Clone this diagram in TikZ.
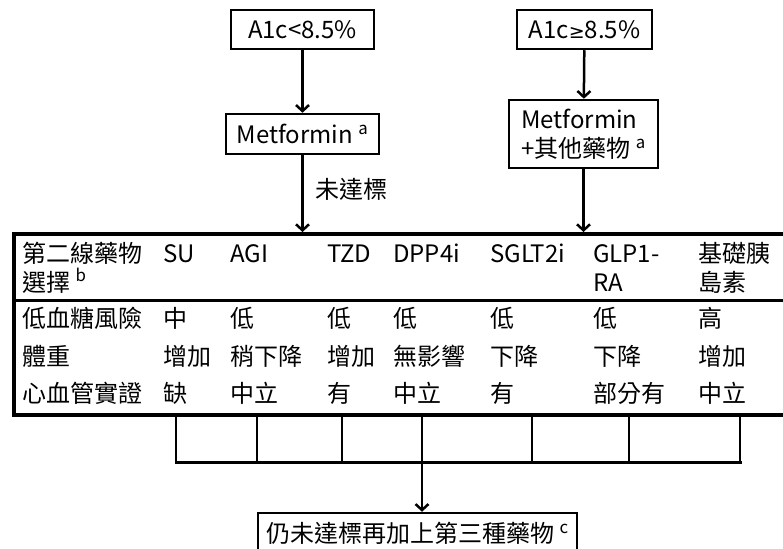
\documentclass[tikz,border=0pt]{standalone}
\usepackage{fontspec}
\setmainfont{Noto Sans CJK TC}
\newfontfamily\symfont{DejaVu Sans}
\usetikzlibrary{arrows.meta}
\tikzstyle{box} = [rectangle, draw=black, line width=2.5pt, inner sep=0pt, align=center]
\tikzstyle{arrow} = [line width=2.5pt, -{Straight Barb[length=6pt,width=13pt]}]
\tikzstyle{cell} = [anchor=base west, inner sep=0pt, align=left]
\tikzstyle{stub} = [line width=2.5pt]

\begin{document}
\begin{tikzpicture}[x=1pt, y=-1pt, font=\fontsize{24}{29}\selectfont]
    \clip (0,0) rectangle (783,548);
    % first line
    \node (low) [box, minimum width=143pt, minimum height=39pt] at (302.5,29.5) {A1c<8.5\%};
    \node (metf) [box, minimum width=153pt, minimum height=40pt] at (302.5,134) {Metformin \textsuperscript{a}};
    \node (high) [box, minimum width=135pt, minimum height=39pt] at (584.5,29.5) {A1c{\symfont\fontsize{19}{24}\selectfont ≥}8.5\%};
    \node (metfplus) [box, align=left, minimum width=149pt, minimum height=68pt] at (583.5,134) {Metformin\\+其他藥物 \textsuperscript{a}};
    % second line table
    \node (tab) [rectangle, draw, line width=3.5pt, minimum width=800pt, minimum height=181pt, anchor=north west, inner sep=0pt] at (12,232) {};
    \coordinate (div) at (0,300);
    \draw [line width=3pt] (tab.west |- div) -- (tab.east |- div);
    \draw [arrow] (low) -- (metf);
    \draw [arrow] (metf) -- node[pos=0.44, right, xshift=8pt] {未達標} (metf |- tab.north);
    \draw [arrow] (high) -- (metfplus);
    \draw [arrow] (metfplus) -- (metfplus |- tab.north);
    \foreach \x/\hy/\head/\hypo/\wt/\cv [count=\c] in {22/291/第二線藥物\\選擇 \textsuperscript{b}/低血糖風險/體重/心血管實證,
        163/262/SU/中/增加/缺, 230/262/AGI/低/稍下降/中立, 327/262/TZD/低/增加/有, 393/262/DPP4i/低/無影響/中立,
        490/262/SGLT2i/低/下降/有, 593/291/GLP1-\\RA/低/下降/部分有, 698/291/基礎胰\\島素/高/增加/中立} {
        \node (head\c) [cell] at (\x,\hy) {\head};
        \node (hypo\c) [cell] at (\x,327.5) {\hypo};
        \node (wt\c) [cell] at (\x,365.5) {\wt};
        \node (cv\c) [cell] at (\x,402.5) {\cv};
    }
    % third line
    \node (third) [box, minimum width=319pt, minimum height=40pt] at (417.5,533) {仍未達標再加上第三種藥物 \textsuperscript{c}};
    \foreach \s [count=\c] in {176,257,342,422,532,629,740} {
        \coordinate (bus\c) at (\s,462);
        \draw [stub] (tab.south -| bus\c) -- (bus\c);
    }
    \draw [line width=3pt, line cap=rect] (bus1) -- (bus7);
    \draw [arrow] (bus4) -- (bus4 |- third.north);
\end{tikzpicture}
\end{document}
